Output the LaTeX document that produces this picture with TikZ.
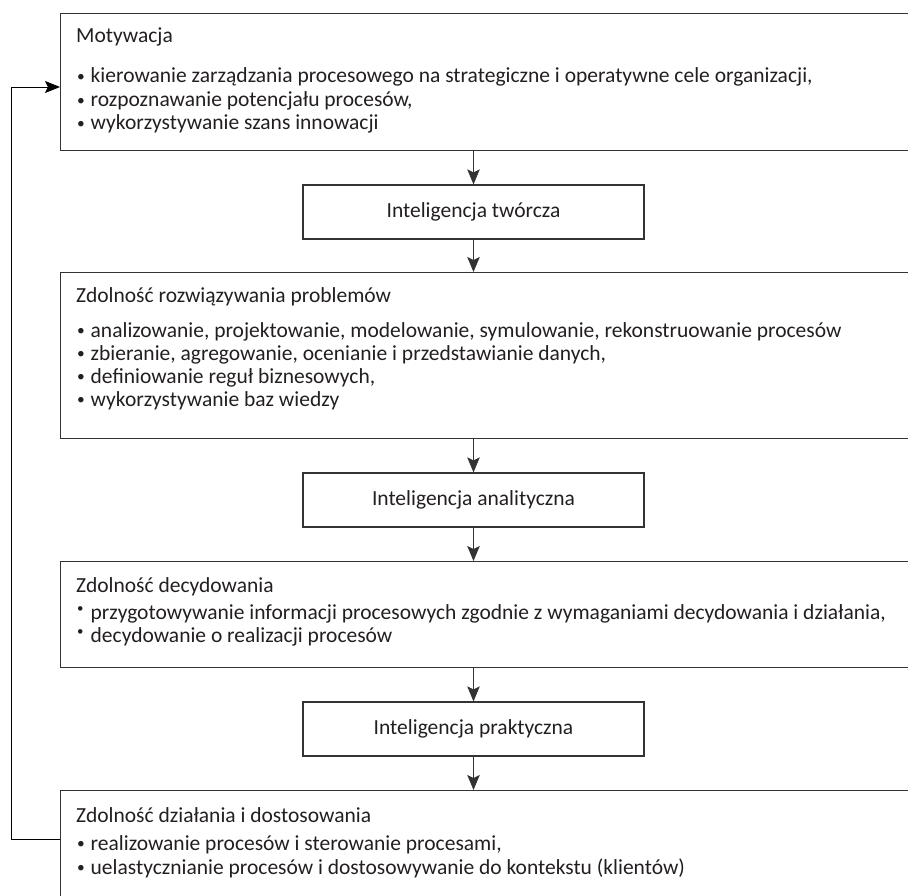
\documentclass[tikz,border=0pt]{standalone}
\usepackage{fontspec}
\setmainfont{Carlito}
\usetikzlibrary{arrows.meta}
\definecolor{ink}{HTML}{231F20}
\definecolor{rule}{HTML}{333333}
\newcommand{\bul}{\makebox[14.5pt][l]{\hspace{1pt}\raisebox{1.5pt}{\scalebox{0.72}{\textbullet}}}}
\newcommand{\hibul}{\makebox[14.5pt][l]{\hspace{1pt}\raisebox{7pt}{\scalebox{0.6}{\textbullet}}}}
\begin{document}
\begin{tikzpicture}[x=1pt,y=-1pt,
  every node/.style={text=ink, font=\fontsize{21.5}{23}\selectfont},
  bigbox/.style={draw=rule, line width=1.2pt, anchor=north west,
    minimum width=900pt, inner sep=0pt},
  smallbox/.style={draw=rule, line width=1.2pt, minimum width=341pt,
    minimum height=54pt, inner sep=0pt},
  line/.style={anchor=base west, inner sep=0pt},
  arr/.style={draw=rule, line width=1pt,
    -{Stealth[length=15pt, width=12.5pt, inset=3pt]}},
  fb/.style={draw=black, line width=0.9pt,
    -{Stealth[length=15pt, width=12pt, inset=3pt]}}]
\useasboundingbox (0,0) rectangle (908,896);
\clip (0,0) rectangle (908,896);

% stage boxes, open to the right and bottom edges
\node[bigbox, minimum height=137pt] (mot) at (60,13) {};
\node[bigbox, minimum height=166pt] (roz) at (60,272) {};
\node[bigbox, minimum height=106pt] (dec) at (60,561) {};
\node[bigbox, minimum height=140pt] (dzi) at (60,790) {};

% intelligence boxes
\node[smallbox] (twor) at (473.5,212) {Inteligencja twórcza};
\node[smallbox] (anal) at (473.5,500) {Inteligencja analityczna};
\node[smallbox] (prak) at (473.5,729) {Inteligencja praktyczna};

% texts of the stage boxes
\node[line] (mot0) at (76,43) {Motywacja};
\node[line] (mot1) at (76,83) {\bul kierowanie zarządzania procesowego na strategiczne i operatywne cele organizacji,};
\node[line] (mot2) at (76,107) {\bul rozpoznawanie potencjału procesów,};
\node[line] (mot3) at (76,130) {\bul wykorzystywanie szans innowacji};

\node[line] (roz0) at (76,302) {Zdolność rozwiązywania problemów};
\node[line] (roz1) at (76,337) {\bul analizowanie, projektowanie, modelowanie, symulowanie, rekonstruowanie procesów};
\node[line] (roz2) at (76,360) {\bul zbieranie, agregowanie, ocenianie i przedstawianie danych,};
\node[line] (roz3) at (76,383) {\bul definiowanie reguł biznesowych,};
\node[line] (roz4) at (76,406) {\bul wykorzystywanie baz wiedzy};

\node[line] (dec0) at (76,592) {Zdolność decydowania};
\node[line] (dec1) at (76,619) {\hibul przygotowywanie informacji procesowych zgodnie z wymaganiami decydowania i działania,};
\node[line] (dec2) at (76,642) {\hibul decydowanie o realizacji procesów};

\node[line] (dzi0) at (76,822) {Zdolność działania i dostosowania};
\node[line] (dzi1) at (76,850) {\bul realizowanie procesów i sterowanie procesami,};
\node[line] (dzi2) at (76,874) {\bul uelastycznianie procesów i dostosowywanie do kontekstu (klientów)};

% downward flow
\draw[arr] (twor.north |- mot.south) -- (twor.north);
\draw[arr] (twor.south) -- (twor.south |- roz.north);
\draw[arr] (anal.north |- roz.south) -- (anal.north);
\draw[arr] (anal.south) -- (anal.south |- dec.north);
\draw[arr] (prak.north |- dec.south) -- (prak.north);
\draw[arr] (prak.south) -- (prak.south |- dzi.north);

% feedback loop back to the motivation stage
\coordinate (fbl) at (11,839);
\coordinate (fbu) at (11,87);
\draw[fb] (dzi.west |- fbl) -- (fbl) -- (fbu) -- (mot.west |- fbu);
\end{tikzpicture}
\end{document}
